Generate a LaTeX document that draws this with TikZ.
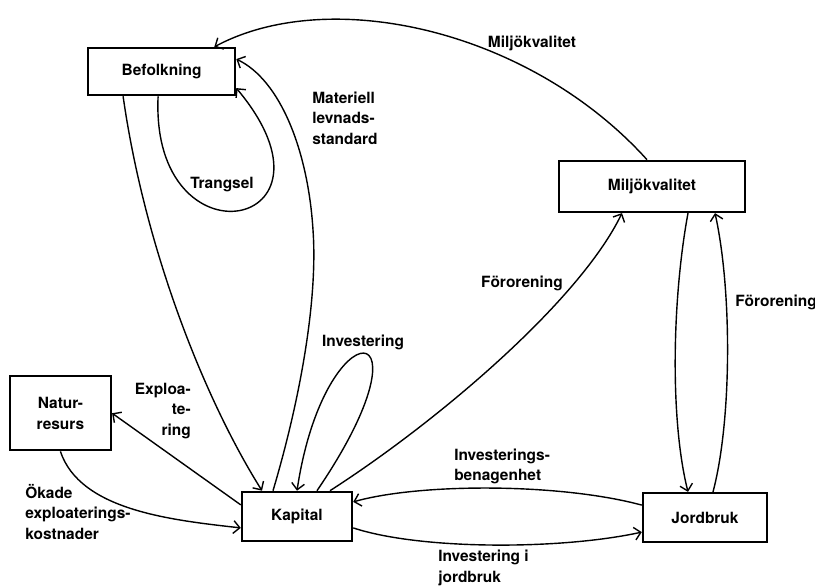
\documentclass[tikz,border=0pt]{standalone}
\usepackage{fontspec}
\setmainfont{TeX Gyre Heros}
\usetikzlibrary{arrows.meta}

\begin{document}
\begin{tikzpicture}[
			boxnode/.style={draw, align=center, inner sep=0pt, line width=0.6mm, font=\fontsize{11}{15}\selectfont\bfseries},
			lbl/.style={inner sep=0pt, font=\fontsize{11}{14.5}\selectfont\bfseries},
			flow/.style={line width=0.35mm, -{Straight Barb[length=1.6mm,width=3.2mm]}}
		]

		\useasboundingbox (0,0) rectangle (20.375,-14.675);

		\node[boxnode, minimum width=3.675cm, minimum height=1.175cm] (befolk) at (4.04,-1.79) {Befolkning};
		\node[boxnode, minimum width=4.65cm, minimum height=1.275cm] (milj) at (16.3,-4.66) {Miljökvalitet};
		\node[boxnode, minimum width=2.525cm, minimum height=1.85cm] (natur) at (1.51,-10.33) {Natur-\\resurs};
		\node[boxnode, minimum width=2.75cm, minimum height=1.225cm] (kap) at (7.425,-12.91) {Kapital};
		\node[boxnode, minimum width=3.1cm, minimum height=1.225cm] (jord) at (17.625,-12.94) {Jordbruk};

		\draw[flow] ([xshift=-0.125cm]milj.north) .. controls (13.25,-0.75) and (8.25,0.375) .. ([xshift=-0.55cm]befolk.north east);
		\draw[flow] ([xshift=-0.6cm]kap.north) .. controls (7.5,-10) and (7.95,-7.5) .. (7.825,-5.75) .. controls (7.7,-3.75) and (7,-2) .. ([yshift=0.3125cm]befolk.east);
		\draw[flow] ([xshift=-0.0875cm]befolk.south) .. controls (3.75,-6.75) and (8.875,-5.75) .. ([yshift=-0.4125cm]befolk.east);
		\draw[flow] ([xshift=-0.9625cm]befolk.south) .. controls (3.625,-6.25) and (5.125,-10) .. ([xshift=-0.875cm]kap.north);
		\draw[flow] ([yshift=0.2875cm]kap.west) -- (natur.east);
		\draw[flow] (natur.south) .. controls (2,-12.75) and (4.25,-13) .. ([yshift=-0.2875cm]kap.west);
		\draw[flow] ([xshift=0.5cm]kap.north) .. controls (11,-7.75) and (8.125,-7.625) .. (kap.north);
		\draw[flow] ([xshift=0.825cm]kap.north) .. controls (11,-10.5) and (14.5,-7.5) .. ([xshift=-0.75cm]milj.south);
		\draw[flow] ([yshift=0.3125cm]jord.west) .. controls (14,-12.075) and (10.5,-12.075) .. ([yshift=0.3625cm]kap.east);
		\draw[flow] ([yshift=-0.2875cm]kap.east) .. controls (10.5,-13.75) and (14,-13.75) .. ([yshift=-0.3625cm]jord.west);
		\draw[flow] ([xshift=0.9cm]milj.south) .. controls (16.8,-7.5) and (16.75,-10.5) .. ([xshift=-0.425cm]jord.north);
		\draw[flow] ([xshift=0.2cm]jord.north) .. controls (18.3,-10.5) and (18.3,-7.25) .. ([xshift=1.575cm]milj.south);

		\node[lbl] (lmilj) at (13.3,-1.075) {Miljökvalitet};
		\node[lbl, align=left, anchor=west] (lmat) at (7.8,-2.95) {Materiell\\levnads-\\standard};
		\node[lbl] (ltrang) at (5.55,-4.625) {Trangsel};
		\node[lbl, align=right, anchor=east] (lexpl) at (4.775,-10.275) {Exploa-\\te-\\ring};
		\node[lbl, align=left, anchor=west] (lokade) at (0.625,-12.8) {Ökade\\exploaterings-\\kostnader};
		\node[lbl] (linv) at (9.075,-8.55) {Investering};
		\node[lbl] (lfor) at (13.05,-7.075) {Förorening};
		\node[lbl, align=left, anchor=west] (lbenag) at (11.35,-11.6625) {Investerings-\\benagenhet};
		\node[lbl, align=left, anchor=west] (linvj) at (10.95,-14.2) {Investering i\\jordbruk};
		\node[lbl, anchor=west] (lfor2) at (18.375,-7.55) {Förorening};
	\end{tikzpicture}
\end{document}
